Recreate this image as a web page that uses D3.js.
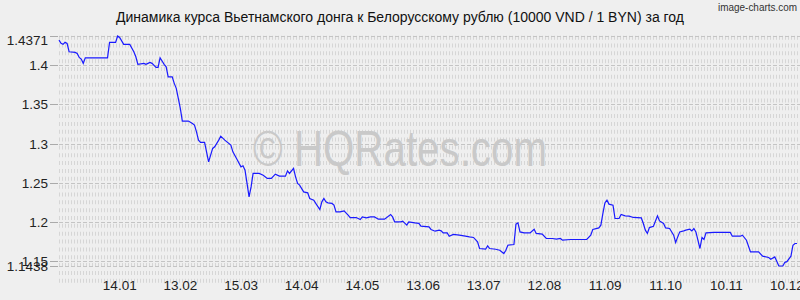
<!DOCTYPE html>
<html>
<head>
<meta charset="utf-8">
<script src="https://cdn.jsdelivr.net/npm/d3@7"></script>
<style>
  body { margin: 0; background: #efefef; }
  text { font-family: "Liberation Sans", Arial, sans-serif; }
</style>
</head>
<body>
<script>

//Chart data: dates and daily rate values (VND 10000 / BYN)
var dates = ["2022-12-10","2022-12-11","2022-12-12","2022-12-13","2022-12-14","2022-12-15","2022-12-18","2022-12-19","2022-12-20","2022-12-21",
  "2022-12-22","2022-12-23","2023-01-03","2023-01-04","2023-01-07","2023-01-08","2023-01-09","2023-01-11","2023-01-14","2023-01-16",
  "2023-01-17","2023-01-18","2023-01-21","2023-01-22","2023-01-23","2023-01-24","2023-01-25","2023-01-27","2023-01-28","2023-01-29",
  "2023-01-31","2023-02-01","2023-02-02","2023-02-04","2023-02-05","2023-02-06","2023-02-07","2023-02-08","2023-02-09","2023-02-12",
  "2023-02-14","2023-02-15","2023-02-16","2023-02-17","2023-02-18","2023-02-20","2023-02-22","2023-02-24","2023-02-25","2023-02-27",
  "2023-02-28","2023-03-02","2023-03-05","2023-03-06","2023-03-08","2023-03-10","2023-03-11","2023-03-12","2023-03-13","2023-03-14",
  "2023-03-15","2023-03-16","2023-03-19","2023-03-21","2023-03-23","2023-03-25","2023-03-27","2023-03-29","2023-04-01","2023-04-02",
  "2023-04-03","2023-04-05","2023-04-06","2023-04-07","2023-04-08","2023-04-10","2023-04-12","2023-04-13","2023-04-15","2023-04-16",
  "2023-04-18","2023-04-19","2023-04-20","2023-04-21","2023-04-22","2023-04-24","2023-04-25","2023-04-26","2023-04-28","2023-04-30",
  "2023-05-02","2023-05-03","2023-05-06","2023-05-08","2023-05-09","2023-05-11","2023-05-13","2023-05-15","2023-05-17","2023-05-20",
  "2023-05-23","2023-05-24","2023-05-25","2023-05-28","2023-05-29","2023-05-31","2023-06-01","2023-06-04","2023-06-06","2023-06-07",
  "2023-06-11","2023-06-12","2023-06-14","2023-06-16","2023-06-17","2023-06-18","2023-06-20","2023-06-21","2023-06-23","2023-06-26",
  "2023-06-29","2023-07-01","2023-07-03","2023-07-05","2023-07-06","2023-07-09","2023-07-10","2023-07-11","2023-07-14","2023-07-16",
  "2023-07-18","2023-07-19","2023-07-20","2023-07-23","2023-07-24","2023-07-25","2023-07-26","2023-07-28","2023-07-31","2023-08-02",
  "2023-08-03","2023-08-06","2023-08-08","2023-08-11","2023-08-13","2023-08-15","2023-08-16","2023-08-20","2023-08-28","2023-08-30",
  "2023-08-31","2023-09-03","2023-09-04","2023-09-05","2023-09-06","2023-09-07","2023-09-08","2023-09-10","2023-09-11","2023-09-13",
  "2023-09-14","2023-09-16","2023-09-18","2023-09-20","2023-09-24","2023-09-25","2023-09-26","2023-09-27","2023-09-28","2023-09-30",
  "2023-10-02","2023-10-03","2023-10-05","2023-10-06","2023-10-08","2023-10-10","2023-10-11","2023-10-12","2023-10-13","2023-10-15",
  "2023-10-16","2023-10-18","2023-10-19","2023-10-20","2023-10-21","2023-10-23","2023-10-24","2023-10-25","2023-10-26","2023-10-30",
  "2023-11-07","2023-11-08","2023-11-12","2023-11-13","2023-11-15","2023-11-17","2023-11-21","2023-11-23","2023-11-26","2023-11-27",
  "2023-11-29","2023-11-30","2023-12-01","2023-12-03","2023-12-04","2023-12-05","2023-12-07","2023-12-08","2023-12-09","2023-12-10"];

var rates = [1.4319,1.4277,1.4264,1.4290,1.4277,1.4170,1.4162,1.4149,1.4098,1.4077,
  1.4022,1.4093,1.4093,1.4290,1.4290,1.4371,1.4353,1.4264,1.4264,1.4170,
  1.4106,1.4009,1.4022,1.4009,1.4022,1.4034,1.4022,1.3971,1.3971,1.4093,
  1.4009,1.3978,1.3851,1.3851,1.3767,1.3703,1.3575,1.3448,1.3286,1.3286,
  1.3256,1.3234,1.3149,1.3043,1.3014,1.3014,1.2766,1.2937,1.2958,1.3043,
  1.3094,1.3043,1.2979,1.2894,1.2800,1.2702,1.2716,1.2660,1.2491,1.2319,
  1.2447,1.2618,1.2618,1.2596,1.2555,1.2555,1.2609,1.2584,1.2584,1.2651,
  1.2618,1.2682,1.2575,1.2491,1.2469,1.2383,1.2371,1.2299,1.2278,1.2236,
  1.2159,1.2256,1.2299,1.2256,1.2243,1.2236,1.2214,1.2129,1.2129,1.2141,
  1.2086,1.2056,1.2056,1.2031,1.2064,1.2051,1.2064,1.2064,1.2035,1.2035,
  1.2095,1.2064,1.2001,1.2001,1.2010,1.1959,1.2001,1.1988,1.1981,1.1946,
  1.1937,1.1904,1.1882,1.1895,1.1886,1.1860,1.1860,1.1818,1.1840,1.1831,
  1.1818,1.1809,1.1802,1.1746,1.1661,1.1652,1.1694,1.1661,1.1652,1.1639,
  1.1597,1.1639,1.1703,1.1712,1.1971,1.1988,1.1873,1.1860,1.1860,1.1907,
  1.1853,1.1844,1.1789,1.1789,1.1780,1.1789,1.1767,1.1776,1.1776,1.1831,
  1.1904,1.1924,1.1959,1.2108,1.2243,1.2278,1.2227,1.2214,1.2044,1.2044,
  1.2095,1.2078,1.2074,1.2057,1.2051,1.1980,1.1895,1.1853,1.1928,1.1945,
  1.2077,1.2013,1.1980,1.1924,1.1916,1.1831,1.1738,1.1809,1.1873,1.1886,
  1.1895,1.1907,1.1886,1.1916,1.1873,1.1661,1.1801,1.1776,1.1860,1.1866,
  1.1866,1.1818,1.1818,1.1831,1.1767,1.1618,1.1618,1.1563,1.1546,1.1525,
  1.1554,1.1499,1.1438,1.1438,1.1485,1.1493,1.1563,1.1703,1.1725,1.1725];

//Tick labels
var xTickDates = ["2023-01-14","2023-02-13","2023-03-15","2023-04-14","2023-05-14","2023-06-13",
  "2023-07-13","2023-08-12","2023-09-11","2023-10-11","2023-11-10","2023-12-10"];
var yTicks = [1.4371, 1.4, 1.35, 1.3, 1.25, 1.2, 1.15, 1.1438];

var title = "Динамика курса Вьетнамского донга к Белорусскому рублю (10000 VND / 1 BYN) за год";

//SVG size and plot area
var width = 800, height = 300;
var plot = {left: 59, right: 797, top: 36, bottom: 266};

var parse = d3.timeParse("%Y-%m-%d");
var data = dates.map(function(d, i){ return {date: parse(d), value: rates[i]}; });

var xScale = d3.scaleTime()
  .domain([parse("2022-12-10"), parse("2023-12-10")])
  .range([plot.left, plot.right]);

var yScale = d3.scaleLinear()
  .domain([1.1438, 1.4371])
  .range([plot.bottom, plot.top]);

var svg = d3.select("body")
  .append("svg")
  .attr("width", width)
  .attr("height", height);

svg.append("rect")
  .attr("width", width)
  .attr("height", height)
  .attr("fill", "#efefef");

//Hatched minor grid bands every 0.01
var bandVals = d3.range(1.435, 1.125, -0.01);
svg.append("g").selectAll("line")
  .data(bandVals)
  .enter()
  .append("line")
  .attr("x1", plot.left)
  .attr("x2", width)
  .attr("y1", function(d){ return yScale(d); })
  .attr("y2", function(d){ return yScale(d); })
  .attr("stroke", "#d6d6d6")
  .attr("stroke-width", 4)
  .attr("stroke-dasharray", "1,2");

//Major dashed grid lines at the tick values
svg.append("g").selectAll("line")
  .data(yTicks)
  .enter()
  .append("line")
  .attr("x1", plot.left)
  .attr("x2", width)
  .attr("y1", function(d){ return Math.round(yScale(d)) + 0.5; })
  .attr("y2", function(d){ return Math.round(yScale(d)) + 0.5; })
  .attr("stroke", "#c4c4c4")
  .attr("stroke-width", 1)
  .attr("stroke-dasharray", "4,2");

//Tick marks left of the plot
svg.append("g").selectAll("line")
  .data(yTicks)
  .enter()
  .append("line")
  .attr("x1", 50)
  .attr("x2", plot.left - 1)
  .attr("y1", function(d){ return Math.round(yScale(d)) + 0.5; })
  .attr("y2", function(d){ return Math.round(yScale(d)) + 0.5; })
  .attr("stroke", "#aaaaaa");

//Watermark
svg.append("text")
  .attr("x", 400)
  .attr("y", 166)
  .attr("text-anchor", "middle")
  .attr("font-size", 50)
  .attr("textLength", 294)
  .attr("lengthAdjust", "spacingAndGlyphs")
  .attr("fill", "#c9c9c9")
  .text("© HQRates.com");

//Y labels
svg.append("g").selectAll("text")
  .data(yTicks)
  .enter()
  .append("text")
  .attr("x", 48)
  .attr("y", function(d){ return Math.max(yScale(d), 40) + 5; })
  .attr("text-anchor", "end")
  .attr("font-size", 13.5)
  .attr("fill", "#222")
  .text(function(d){ return d; });

//X labels
var fmt = d3.timeFormat("%d.%m");
svg.append("g").selectAll("text")
  .data(xTickDates)
  .enter()
  .append("text")
  .attr("x", function(d){ return xScale(parse(d)) - 10; })
  .attr("y", 290)
  .attr("text-anchor", "middle")
  .attr("font-size", 13.5)
  .attr("fill", "#222")
  .text(function(d){ return fmt(parse(d)); });

//Rate line
var line = d3.line()
  .x(function(d){ return xScale(d.date); })
  .y(function(d){ return yScale(d.value); });

svg.append("path")
  .datum(data)
  .attr("d", line)
  .attr("fill", "none")
  .attr("stroke", "#1a1aff")
  .attr("stroke-width", 1.2);

//Title and credit
svg.append("text")
  .attr("x", 400)
  .attr("y", 22)
  .attr("text-anchor", "middle")
  .attr("font-size", 14)
  .attr("fill", "#111")
  .text(title);

svg.append("text")
  .attr("x", 797)
  .attr("y", 11)
  .attr("text-anchor", "end")
  .attr("font-family", "DejaVu Sans Mono")
  .attr("font-size", 10)
  .attr("textLength", 79)
  .attr("lengthAdjust", "spacingAndGlyphs")
  .attr("fill", "#333")
  .text("image-charts.com");

</script>
</body>
</html>
